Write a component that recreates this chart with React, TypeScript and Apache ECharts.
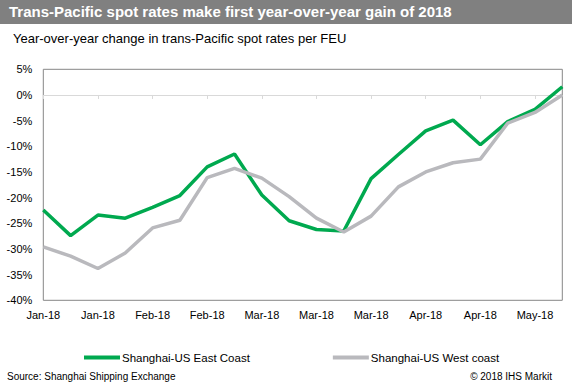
import React, { useEffect, useRef } from "react";
import * as echarts from "echarts";

const title = "Trans-Pacific spot rates make first year-over-year gain of 2018";
const subtitle = "Year-over-year change in trans-Pacific spot rates per FEU";
const source = "Source: Shanghai Shipping Exchange";
const copyright = "© 2018 IHS Markit";

const categories = [
  "Jan-18", "Jan-18", "Jan-18", "Jan-18", "Feb-18", "Feb-18", "Feb-18", "Feb-18",
  "Mar-18", "Mar-18", "Mar-18", "Mar-18", "Mar-18", "Apr-18", "Apr-18", "Apr-18",
  "Apr-18", "May-18", "May-18", "May-18",
];

const eastCoast = [
  -22.4, -27.4, -23.4, -24.0, -21.9, -19.6, -14.0, -11.5, -19.5, -24.5,
  -26.2, -26.5, -16.3, -11.6, -7.0, -4.9, -9.7, -5.2, -2.8, 1.6,
];

const westCoast = [
  -29.6, -31.4, -33.8, -30.8, -25.9, -24.4, -16.1, -14.3, -16.2, -19.8,
  -24.0, -26.7, -23.6, -17.9, -15.0, -13.2, -12.5, -5.5, -3.4, 0.0,
];

const seriesNames = ["Shanghai-US East Coast", "Shanghai-US West coast"];

const FONT = "'Liberation Sans', Arial, sans-serif";

export default function App() {
  const ref = useRef<HTMLDivElement>(null);
  useEffect(() => {
    if (!ref.current) return;
    const chart = echarts.init(ref.current, undefined, { renderer: "svg" });
    chart.setOption({
      animation: false,
      backgroundColor: "#ffffff",
      textStyle: { fontFamily: FONT },
      grid: {
        left: 43.3,
        right: 9.7,
        top: 69.3,
        bottom: 83.7,
        show: true,
        borderColor: "#868686",
        borderWidth: 1,
        containLabel: false,
      },
      legend: {
        left: 79,
        top: 346.5,
        itemWidth: 36,
        itemHeight: 4,
        itemGap: 83,
        icon: "rect",
        textStyle: { fontSize: 11.5, color: "#000", fontFamily: FONT, padding: [0, 0, 0, -3] },
        data: seriesNames,
      },
      xAxis: [
        {
          type: "category",
          data: categories,
          boundaryGap: false,
          position: "bottom",
          axisLine: { onZero: true, lineStyle: { color: "#d9d9d9", width: 1 } },
          axisTick: { show: true, interval: 1, length: 4, lineStyle: { color: "#d9d9d9" } },
          axisLabel: { show: false },
          splitLine: { show: false },
        },
        {
          type: "category",
          data: categories,
          boundaryGap: false,
          position: "bottom",
          axisLine: { show: false, onZero: false },
          axisTick: { show: false },
          axisLabel: {
            show: true,
            interval: 1,
            margin: 9,
            fontSize: 11,
            color: "#000",
            fontFamily: FONT,
          },
          splitLine: { show: false },
        },
      ],
      yAxis: {
        type: "value",
        min: -40,
        max: 5,
        interval: 5,
        axisLine: { show: false },
        axisTick: { show: false },
        splitLine: { show: false },
        axisLabel: {
          margin: 11,
          fontSize: 11,
          color: "#000",
          fontFamily: FONT,
          formatter: (v: number) => `${v}%`,
        },
      },
      series: [
        {
          name: seriesNames[0],
          type: "line",
          data: eastCoast,
          xAxisIndex: 0,
          symbol: "none",
          lineStyle: { color: "#00a94f", width: 3.5 },
          itemStyle: { color: "#00a94f" },
        },
        {
          name: seriesNames[1],
          type: "line",
          data: westCoast,
          xAxisIndex: 0,
          symbol: "none",
          lineStyle: { color: "#b9b9bd", width: 3.5 },
          itemStyle: { color: "#b9b9bd" },
        },
      ],
      graphic: [
        { type: "rect", left: 0, top: 0, shape: { width: 572, height: 24 }, style: { fill: "#808080" }, z: 0 },
        {
          type: "text",
          left: 9,
          top: 4,
          style: { text: title, fill: "#ffffff", font: `bold 15px ${FONT}` },
          z: 1,
        },
        {
          type: "text",
          left: 13,
          top: 32,
          style: { text: subtitle, fill: "#000000", font: `13px ${FONT}` },
        },
        {
          type: "text",
          left: 7,
          top: 371,
          style: { text: source, fill: "#000000", font: `10px ${FONT}` },
        },
        {
          type: "text",
          right: 20,
          top: 371,
          style: { text: copyright, fill: "#000000", font: `10px ${FONT}` },
        },
      ],
    });
    return () => chart.dispose();
  }, []);
  return (
    <div
      ref={ref}
      style={{ position: "fixed", left: 0, top: 0, width: 572, height: 384 }}
    />
  );
}
